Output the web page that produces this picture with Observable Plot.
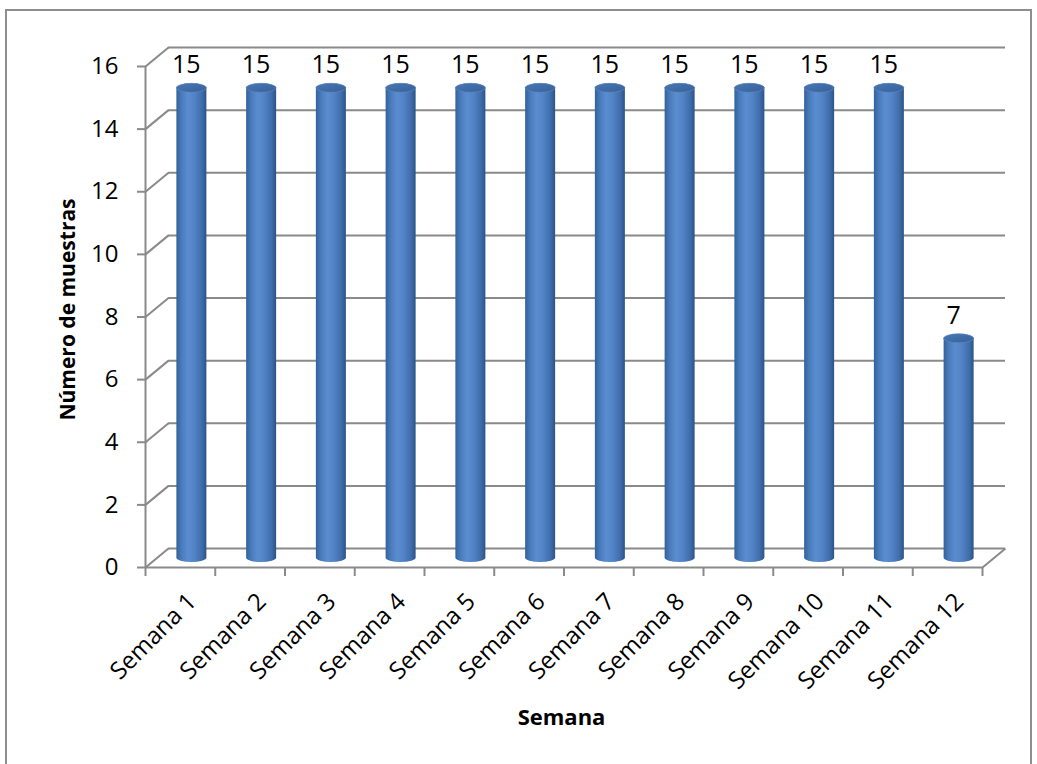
<!DOCTYPE html>
<html>
<head>
<meta charset="utf-8">
<script src="https://cdn.jsdelivr.net/npm/d3@7"></script>
<script src="https://cdn.jsdelivr.net/npm/@observablehq/plot@0.6"></script>
<style>
  html, body { margin: 0; padding: 0; background: #fff; }
  #wrap { position: relative; width: 1037px; height: 764px; overflow: hidden; }
  #border { position: absolute; left: 5px; top: 9px; width: 1027px; height: 800px;
            border: 2px solid #8e8e8e; box-sizing: border-box; }
  #chart { position: absolute; left: 0; top: 0; }
</style>
</head>
<body>
<div id="wrap"><div id="border"></div><div id="chart"></div></div>
<script>
// ---- data ----
const categories = ["Semana 1","Semana 2","Semana 3","Semana 4","Semana 5","Semana 6",
                    "Semana 7","Semana 8","Semana 9","Semana 10","Semana 11","Semana 12"];
const values = [15,15,15,15,15,15,15,15,15,15,15,7];
const yTicks = [0,2,4,6,8,10,12,14,16];
const yTitle = "Número de muestras";
const xTitle = "Semana";

// ---- layout (pixels) ----
const W = 1037, H = 764;
const pxLeft = 145, pxRight = 982, pxBottom = 567, pxTop = 66;
const nCat = categories.length, yMax = 16;
const kx = nCat / (pxRight - pxLeft);     // data units per px (x)
const ky = yMax / (pxBottom - pxTop);     // data units per px (y)
const DX = 23 * kx, DY = 19 * ky;         // 3-D depth offset
const HW = 15 * kx, RY = 4.5 * ky;        // cylinder half width, cap half height
const TX = 9 * ky, TY = 8 * kx;           // tick lengths

const data = categories.map((c, i) => ({c, i, v: values[i], cx: i + 0.5 + DX / 2}));
const grid = "#8a8a8a";
const font = "Open Sans";

const svg = Plot.plot({
  width: W, height: H,
  marginLeft: pxLeft, marginRight: W - pxRight - 23, marginTop: pxTop - 19, marginBottom: H - pxBottom,
  x: {type: "linear", domain: [0, nCat], range: [pxLeft, pxRight], axis: null},
  y: {type: "linear", domain: [0, yMax], range: [pxBottom, pxTop], axis: null},
  style: {background: "transparent", overflow: "visible"},
  marks: [
    // back wall gridlines
    Plot.ruleY(yTicks, {y: d => d + DY, x1: DX, x2: nCat + DX, stroke: grid, strokeWidth: 2}),
    // side wall diagonals
    Plot.link(yTicks, {x1: 0, y1: d => d, x2: DX, y2: d => d + DY, stroke: grid, strokeWidth: 2}),
    // floor right diagonal
    Plot.link([0], {x1: nCat, y1: 0, x2: nCat + DX, y2: DY, stroke: grid, strokeWidth: 2}),
    // front axis lines
    Plot.ruleX([0], {y1: 0, y2: yMax, stroke: grid, strokeWidth: 2}),
    Plot.ruleY([0], {x1: 0, x2: nCat, stroke: grid, strokeWidth: 2}),
    // x ticks
    Plot.ruleX(d3.range(nCat + 1), {x: d => d, y1: 0, y2: -TX, stroke: grid, strokeWidth: 2}),
    // y ticks
    Plot.ruleY(yTicks, {y: d => d, x1: -TY, x2: 0, stroke: grid, strokeWidth: 2}),
    // cylinder bodies
    Plot.rect(data, {x1: d => d.cx - HW, x2: d => d.cx + HW,
                     y1: DY / 2 - RY, y2: d => d.v + DY / 2 + RY,
                     rx: 15, ry: 4.5, fill: "url(#cylBody)"}),
    // cylinder caps
    Plot.rect(data, {x1: d => d.cx - HW, x2: d => d.cx + HW,
                     y1: d => d.v + DY / 2 - RY, y2: d => d.v + DY / 2 + RY,
                     rx: 15, ry: 4.5, fill: "url(#cylTop)", stroke: "#5f8cc6", strokeWidth: 0.6}),
    // data labels
    Plot.text(data, {x: d => d.i + 0.5, y: d => d.v + DY / 2, dx: 6, dy: -23,
                     text: d => String(d.v), fontSize: 25, fontFamily: font, fill: "#000"}),
    // y tick labels
    Plot.text(yTicks, {x: 0, y: d => d, dx: -27, textAnchor: "end", text: d => String(d),
                       fontSize: 24, fontFamily: font, fill: "#000"}),
    // x tick labels
    Plot.text(data, {x: d => d.i + 0.5, y: 0, dx: 12, dy: 30, rotate: -45, textAnchor: "end",
                     lineAnchor: "middle", text: d => d.c, fontSize: 24, fontFamily: font, fill: "#000"}),
    // axis titles
    Plot.text([yTitle], {frameAnchor: "left", dx: -77, dy: 2, rotate: -90, textAnchor: "middle",
                         lineAnchor: "middle", text: d => d,
                         fontSize: 21, fontWeight: "bold", fontFamily: font, fill: "#000"}),
    Plot.text([xTitle], {frameAnchor: "bottom", dx: -14, dy: 150, textAnchor: "middle",
                         lineAnchor: "middle", text: d => d,
                         fontSize: 22, fontWeight: "bold", fontFamily: font, fill: "#000"})
  ]
});

// gradients for the cylinder shading
const defs = d3.select(svg).insert("defs", ":first-child");
const body = defs.append("linearGradient").attr("id", "cylBody").attr("x1", 0).attr("x2", 1).attr("y1", 0).attr("y2", 0);
[["0%", "#33619b"], ["18%", "#4a7cbd"], ["38%", "#5a8dd0"], ["60%", "#5283c6"], ["85%", "#3f6dab"], ["100%", "#2c5387"]]
  .forEach(([o, c]) => body.append("stop").attr("offset", o).attr("stop-color", c));
const cap = defs.append("linearGradient").attr("id", "cylTop").attr("x1", 0).attr("x2", 1).attr("y1", 0).attr("y2", 1);
[["0%", "#4a77b2"], ["50%", "#3f6ca6"], ["100%", "#385f95"]]
  .forEach(([o, c]) => cap.append("stop").attr("offset", o).attr("stop-color", c));

document.getElementById("chart").appendChild(svg);
</script>
</body>
</html>
